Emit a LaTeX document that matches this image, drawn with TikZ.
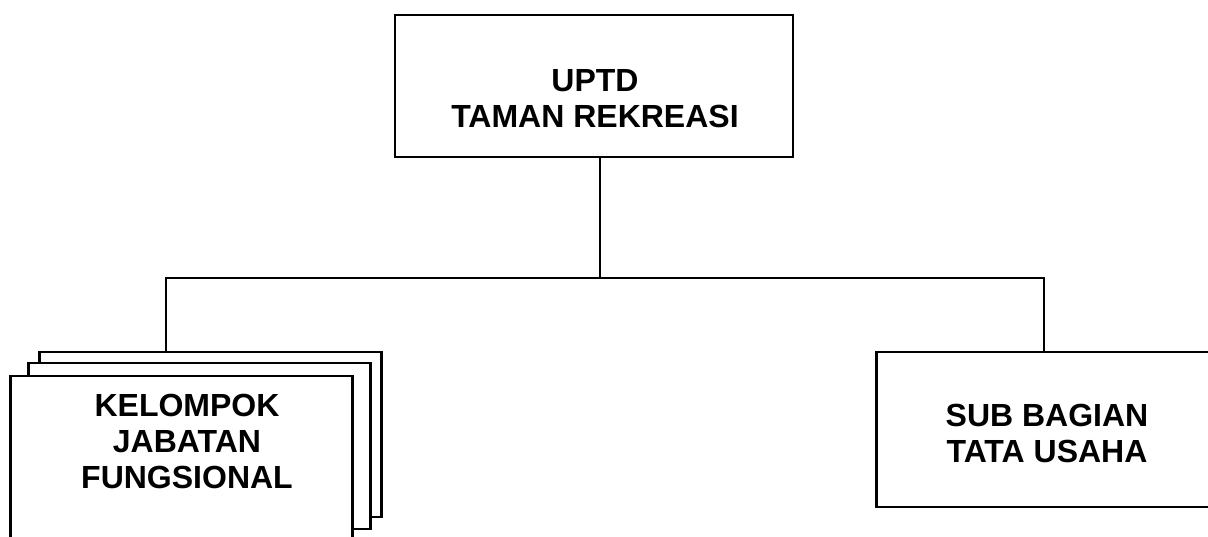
\documentclass[tikz,border=0pt]{standalone}
\usepackage{fontspec}
\newfontfamily\orgfont{Liberation Sans}
\usetikzlibrary{positioning}

\begin{document}
\begin{tikzpicture}[
    x=1pt, y=-1pt,
    orgbox/.style={draw, line width=2.4pt, fill=white, inner sep=0pt, minimum width=#1},
    orgbox/.default=342pt,
    orglabel/.style={inner sep=0pt, anchor=north, align=center, font=\orgfont\bfseries\fontsize{32}{36}\selectfont},
    link/.style={line width=2.2pt}
]
\useasboundingbox (0,0) rectangle (1208,537);
\clip (0,0) rectangle (1208,537);

% boxes
\node[orgbox=398pt, minimum height=142pt] (uptd) at (594,86) {};
\node[orgbox, minimum height=165pt] (fgback) at (210.5,434.5) {};
\node[orgbox, minimum height=166pt] (fgmid) at (199.5,446) {};
\node[orgbox, minimum height=188pt] (fgfront) at (181.5,470) {};
\node[orgbox=337pt, minimum height=155pt] (tatausaha) at (1045,429.5) {};

% labels
\node[orglabel] (uptdtext) at (595,69) {UPTD\\TAMAN REKREASI};
\node[orglabel] (fgtext) at (187,394) {KELOMPOK\\JABATAN\\FUNGSIONAL};
\node[orglabel] (tutext) at (1047,404) {SUB BAGIAN\\TATA USAHA};

% connectors
\coordinate (bus) at (600,278);
\coordinate (busL) at (166,278);
\coordinate (busR) at (1044,278);
\draw[link] (uptd.south -| bus) -- (bus);
\draw[link] (busL |- fgback.north) -- (busL) -- (busR) -- (busR |- tatausaha.north);
\end{tikzpicture}
\end{document}
